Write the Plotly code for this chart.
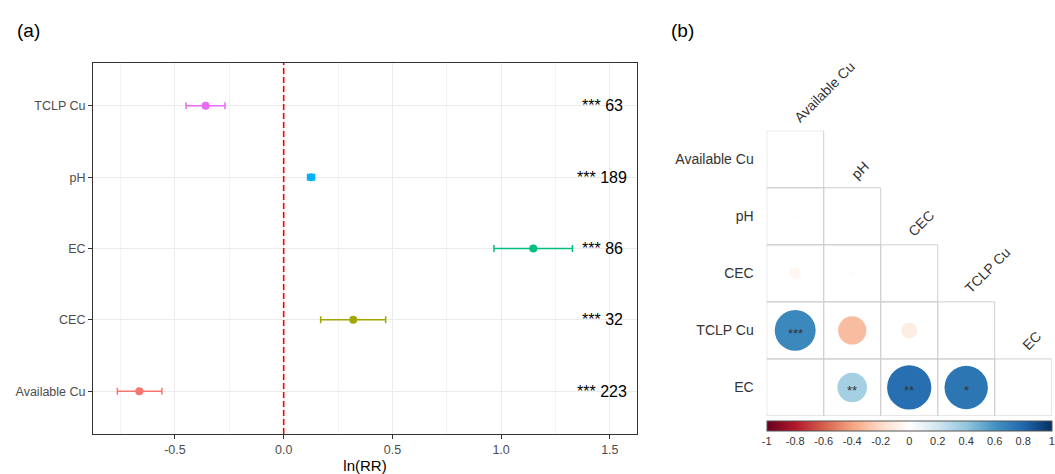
import plotly.graph_objects as go
import numpy as np

# ---------------- Panel (a) data ----------------
cats_a = ["Available Cu", "CEC", "EC", "pH", "TCLP Cu"]        # bottom -> top
means = [-0.664, 0.320, 1.148, 0.126, -0.359]
ci_low = [-0.765, 0.170, 0.967, 0.110, -0.449]
ci_high = [-0.560, 0.469, 1.328, 0.142, -0.270]
sig = ["***", "***", "***", "***", "***"]
n_obs = [223, 32, 86, 189, 63]
colors_a = ["#F8766D", "#A3A500", "#00BF7D", "#00B0F6", "#E76BF3"]
x_ticks_a = [-0.5, 0.0, 0.5, 1.0, 1.5]
x_ticktext_a = ["-0.5", "0.0", "0.5", "1.0", "1.5"]
ref_x = 0.0
label_x = 1.465

# ---------------- Panel (b) data ----------------
vars_b = ["Available Cu", "pH", "CEC", "TCLP Cu", "EC"]
# lower-triangle correlations: (row, col, r, stars)
corr_rows = [1, 2, 2, 3, 3, 3, 4, 4, 4, 4]
corr_cols = [0, 0, 1, 0, 1, 2, 0, 1, 2, 3]
corr_vals = [-0.01, -0.05, -0.01, 0.65, -0.31, -0.10, 0.01, 0.34, 0.76, 0.73]
corr_stars = ["", "", "", "***", "", "", "", "**", "**", "*"]
cb_ticks = [-1, -0.8, -0.6, -0.4, -0.2, 0, 0.2, 0.4, 0.6, 0.8, 1]
cb_ticktext = ["-1", "-0.8", "-0.6", "-0.4", "-0.2", "0", "0.2", "0.4", "0.6", "0.8", "1"]
rdbu = ["#67001F", "#B2182B", "#D6604D", "#F4A582", "#FDDBC7", "#FFFFFF",
        "#D1E5F0", "#92C5DE", "#4393C3", "#2166AC", "#053061"]

W, H = 1055, 474
FONT = "Liberation Sans, Arial, sans-serif"

fig = go.Figure()

# ---- forest plot ----
for i, c in enumerate(cats_a):
    fig.add_trace(go.Scatter(
        x=[means[i]], y=[c], mode="markers",
        marker=dict(color=colors_a[i], size=8),
        error_x=dict(type="data", symmetric=False,
                     array=[ci_high[i] - means[i]],
                     arrayminus=[means[i] - ci_low[i]],
                     color=colors_a[i], thickness=1.5, width=3.5),
        showlegend=False, xaxis="x", yaxis="y", hoverinfo="skip"))

annotations = []
for i, c in enumerate(cats_a):
    annotations.append(dict(x=label_x, y=c, xref="x", yref="y",
                            text=f"{sig[i]} {n_obs[i]}", showarrow=False,
                            xanchor="center", yanchor="middle",
                            font=dict(size=16, color="black", family=FONT)))

shapes = [dict(type="line", xref="x", yref="y domain", x0=ref_x, x1=ref_x, y0=0, y1=1,
               line=dict(color="#FF0000", width=1.6, dash="6px,3px"), layer="above")]

# ---- correlogram ----
n = len(vars_b)
for r in range(n):
    for c in range(r + 1):
        shapes.append(dict(type="rect", xref="x2", yref="y2",
                           x0=c - 0.5, x1=c + 0.5, y0=r - 0.5, y1=r + 0.5,
                           line=dict(color="#cfcfcf", width=1), layer="below"))

cell_px = 57.0
sizes = [0.89 * cell_px * np.sqrt(abs(v)) for v in corr_vals]
cscale = [[k / (len(rdbu) - 1), col] for k, col in enumerate(rdbu)]
fig.add_trace(go.Scatter(
    x=corr_cols, y=corr_rows, mode="markers", xaxis="x2", yaxis="y2",
    marker=dict(size=sizes, color=corr_vals, colorscale=cscale, cmin=-1, cmax=1,
                line=dict(width=0), opacity=1,
                showscale=True,
                colorbar=dict(orientation="h", x=(766.7 + 1051.7) / 2 / W, xanchor="center",
                              y=1 - 420.7 / H, yanchor="top", len=285 / W, lenmode="fraction",
                              thickness=9.5, xpad=0, ypad=0,
                              outlinewidth=1, outlinecolor="#555555",
                              tickvals=cb_ticks, ticktext=cb_ticktext, ticks="",
                              tickfont=dict(size=11, color="#333333", family=FONT))),
    showlegend=False, hoverinfo="skip"))

for i in range(len(corr_vals)):
    if corr_stars[i]:
        annotations.append(dict(x=corr_cols[i], y=corr_rows[i], xref="x2", yref="y2",
                                text=corr_stars[i], showarrow=False, yshift=-3,
                                font=dict(size=13, color="#333333", family=FONT)))

for i, v in enumerate(vars_b):
    annotations.append(dict(x=i, y=i - 0.5, xref="x2", yref="y2", text=v,
                            showarrow=False, textangle=-45, xanchor="left", yanchor="bottom",
                            xshift=-7, yshift=3,
                            font=dict(size=14, color="#333333", family=FONT)))

annotations.append(dict(x=15 / W, y=1 - 30 / H, xref="paper", yref="paper", text="(a)",
                        showarrow=False, xanchor="left", yanchor="middle",
                        font=dict(size=19, color="black", family=FONT)))
annotations.append(dict(x=669 / W, y=1 - 30 / H, xref="paper", yref="paper", text="(b)",
                        showarrow=False, xanchor="left", yanchor="middle",
                        font=dict(size=19, color="black", family=FONT)))

fig.update_layout(
    width=W, height=H, margin=dict(l=0, r=0, t=0, b=0),
    paper_bgcolor="white", plot_bgcolor="white",
    font=dict(family=FONT),
    xaxis=dict(domain=[93 / W, 637 / W], range=[-0.877, 1.625],
               tickvals=x_ticks_a, ticktext=x_ticktext_a,
               showline=True, mirror=True, linecolor="#333333", linewidth=1,
               ticks="outside", ticklen=4, tickcolor="#333333",
               tickfont=dict(size=12.5, color="#4d4d4d"),
               showgrid=True, gridcolor="#ebebeb", gridwidth=1, zeroline=False,
               minor=dict(tick0=0.25, dtick=0.5, showgrid=True, gridcolor="#f3f3f3", gridwidth=0.6),
               title=dict(text="ln(RR)", font=dict(size=15, color="black"), standoff=3),
               anchor="y"),
    yaxis=dict(domain=[1 - 434 / H, 1 - 63 / H], type="category",
               categoryorder="array", categoryarray=cats_a, range=[-0.6, 4.6],
               showline=True, mirror=True, linecolor="#333333", linewidth=1,
               ticks="outside", ticklen=4, tickcolor="#333333",
               tickfont=dict(size=12.5, color="#4d4d4d"),
               showgrid=True, gridcolor="#ebebeb", gridwidth=1, zeroline=False,
               anchor="x"),
    xaxis2=dict(domain=[766.7 / W, 1051.7 / W], range=[-0.5, 4.5], visible=False,
                anchor="y2"),
    yaxis2=dict(domain=[1 - 416 / H, 1 - 130.7 / H], range=[4.5, -0.5],
                tickvals=list(range(n)), ticktext=vars_b, ticks="",
                showgrid=False, zeroline=False, showline=False, ticklabelstandoff=12,
                tickfont=dict(size=14, color="#333333"), anchor="x2"),
    shapes=shapes, annotations=annotations,
)

fig.write_html("out.html")
